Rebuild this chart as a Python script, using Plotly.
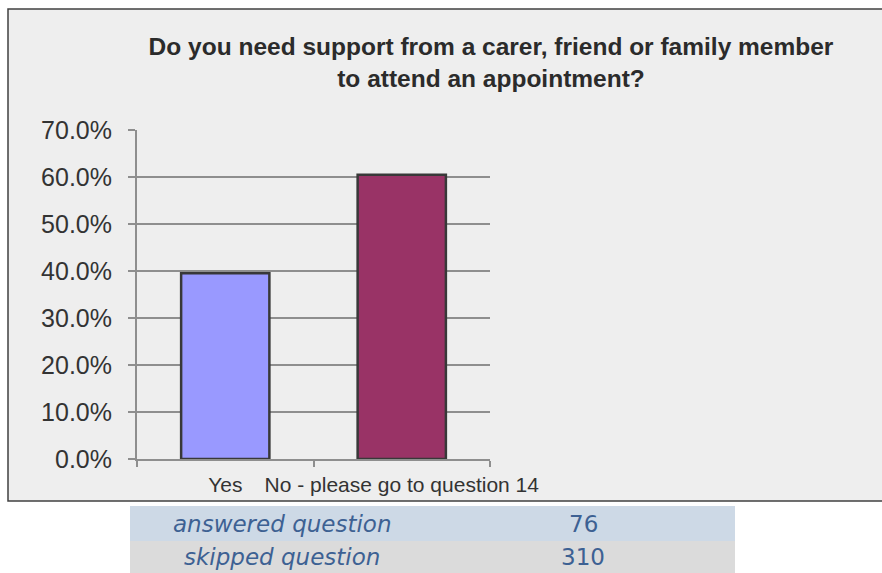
import plotly.graph_objects as go

# Survey responses
categories = ["Yes", "No - please go to question 14"]
percent_values = [39.5, 60.5]
bar_colors = ["#9999FF", "#993366"]
title_text = "Do you need support from a carer, friend or family member<br>to attend an appointment?"
y_ticks = [0, 10, 20, 30, 40, 50, 60, 70]

summary_labels = ["answered question", "skipped question"]
summary_counts = [76, 310]
summary_fills = ["#CDD9E6", "#DBDBDB"]

W, H = 882, 573
L, R, T, B = 137, 490, 130, 459  # plot area in pixels


def px(x):
    return (x - L) / (R - L)


def py(y):
    return (B - y) / (B - T)


fig = go.Figure(
    go.Bar(
        x=categories,
        y=percent_values,
        marker=dict(color=bar_colors, line=dict(color="#383838", width=2.5)),
        width=0.5,
        hoverinfo="x+y",
    )
)

shapes = [
    # grey chart panel
    dict(type="rect", xref="paper", yref="paper",
         x0=px(8), x1=px(890), y0=py(501), y1=py(9),
         fillcolor="#EEEEEE", line=dict(color="#404040", width=1.5), layer="below"),
]
annotations = []

# summary table under the chart
row_edges = [506, 541, 573]
for i, (label, count, fill) in enumerate(zip(summary_labels, summary_counts, summary_fills)):
    y0, y1 = row_edges[i], row_edges[i + 1]
    shapes.append(dict(type="rect", xref="paper", yref="paper",
                       x0=px(130), x1=px(735), y0=py(y1), y1=py(y0),
                       fillcolor=fill, line=dict(width=0), layer="below"))
    yc = py((y0 + y1) / 2)
    annotations.append(dict(xref="paper", yref="paper", x=px(282), y=yc,
                            text=f"<i>{label}</i>", showarrow=False,
                            xanchor="center", yanchor="middle",
                            font=dict(family="DejaVu Sans", size=23, color="#3D6193")))
    annotations.append(dict(xref="paper", yref="paper", x=px(583), y=yc,
                            text=str(count), showarrow=False,
                            xanchor="center", yanchor="middle",
                            font=dict(family="DejaVu Sans", size=23, color="#3D6193")))

fig.update_layout(
    width=W, height=H,
    margin=dict(l=L, r=W - R, t=T, b=H - B, pad=0, autoexpand=False),
    paper_bgcolor="white",
    plot_bgcolor="rgba(0,0,0,0)",
    showlegend=False,
    title=dict(text=title_text, xref="container", yref="container",
               x=491 / W, y=1 - 55 / H, xanchor="center", yanchor="middle",
               automargin=False,
               font=dict(family="Liberation Sans, Arial", size=24.5, color="#2B2B2B", weight="bold")),
    shapes=shapes,
    annotations=annotations,
    bargap=0.5,
)

fig.update_yaxes(
    range=[0, 70], tickvals=y_ticks,
    ticktext=[f"{v:.1f}%" for v in y_ticks],
    showgrid=True, gridcolor="#8E8E8E", gridwidth=2,
    showline=True, linecolor="#8E8E8E", linewidth=2,
    ticks="outside", ticklen=7, tickcolor="#8E8E8E", tickwidth=2,
    ticklabelstandoff=11, automargin=False,
    tickfont=dict(family="Liberation Sans, Arial", size=25, color="#333333"),
    zeroline=False, fixedrange=True,
)
fig.update_xaxes(
    range=[-0.5, 1.5], tickangle=0, automargin=False,
    showline=True, linecolor="#8E8E8E", linewidth=2,
    ticks="outside", tickson="boundaries", ticklen=6, tickcolor="#8E8E8E", tickwidth=2,
    ticklabelstandoff=6,
    tickfont=dict(family="Liberation Sans, Arial", size=21, color="#333333"),
    showgrid=False, fixedrange=True,
)

fig.write_html("out.html")
